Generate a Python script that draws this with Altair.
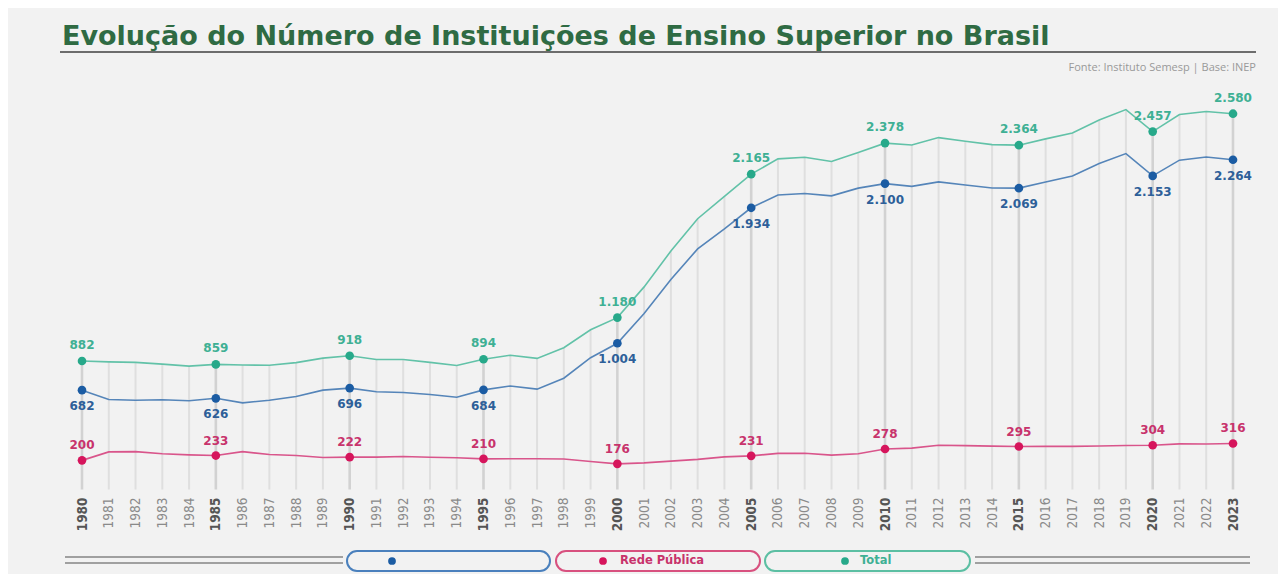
import altair as alt
import pandas as pd

# ---------------- data ----------------
anos = list(range(1980, 2024))
total = [882, 876, 873, 861, 847, 859, 855, 853, 871, 902, 918, 893, 893, 873, 851,
         894, 922, 900, 973, 1097, 1180, 1391, 1637, 1859, 2013, 2165, 2270, 2281,
         2252, 2314, 2378, 2365, 2416, 2391, 2368, 2364, 2407, 2448, 2537, 2608,
         2457, 2574, 2595, 2580]
publica = [200, 258, 260, 245, 238, 233, 260, 240, 233, 220, 222, 222, 227, 221, 218,
           210, 211, 211, 209, 192, 176, 183, 195, 207, 224, 231, 248, 249, 236, 245,
           278, 284, 304, 301, 298, 295, 296, 296, 299, 302, 304, 313, 312, 316]
privada = [682, 618, 613, 616, 609, 626, 595, 613, 638, 682, 696, 671, 666, 652, 633,
           684, 711, 689, 764, 905, 1004, 1208, 1442, 1652, 1789, 1934, 2022, 2032,
           2016, 2069, 2100, 2081, 2112, 2090, 2070, 2069, 2111, 2152, 2238, 2306,
           2153, 2261, 2283, 2264]
destaque = [1980, 1985, 1990, 1995, 2000, 2005, 2010, 2015, 2020, 2023]

titulo = "Evolução do Número de Instituições de Ensino Superior no Brasil"
fonte = "Fonte: Instituto Semesp | Base: INEP"
serie_privada = ""
serie_publica = "Rede Pública"
serie_total = "Total"


def fmt(v):
    return f"{v:,}".replace(",", ".")


df = pd.DataFrame({
    "ano": anos,
    "total": total,
    "publica": publica,
    "privada": privada,
})
df["destaque"] = df["ano"].isin(destaque)
df["lbl_total"] = df["total"].map(fmt)
df["lbl_publica"] = df["publica"].map(fmt)
df["lbl_privada"] = df["privada"].map(fmt)

one = pd.DataFrame({"a": [0]})

# ---------------- styles ----------------
C_TOTAL_LINE = "#62c2a8"
C_TOTAL_DOT = "#27a98a"
C_TOTAL_LBL = "#3eb094"
C_PRIV_LINE = "#5585b9"
C_PRIV_DOT = "#1b5ca3"
C_PRIV_LBL = "#2d5f99"
C_PUB_LINE = "#d9558b"
C_PUB_DOT = "#d6155c"
C_PUB_LBL = "#c8336c"

LABEL_FONT = "DejaVu Sans"
AXIS_FONT = "'Liberation Sans Narrow', 'DejaVu Sans Condensed', sans-serif"
BOLD_TEST = "datum.value % 5 === 0 || datum.value === 2023"

X = alt.X(
    "ano:Q",
    scale=alt.Scale(domain=[1980, 2023], range=[74, 1225], nice=False, zero=False),
    axis=alt.Axis(
        values=anos, format="d", labelAngle=270, labelOverlap=False,
        labelFlush=False, labelBound=False, ticks=False, domain=False,
        grid=False, title=None, labelPadding=5, labelFont=AXIS_FONT,
        labelFontSize=13.5,
        labelColor={"condition": {"test": BOLD_TEST, "value": "#555555"}, "value": "#8a8a8a"},
        labelFontWeight={"condition": {"test": BOLD_TEST, "value": "bold"}, "value": "normal"},
    ),
)

YS = alt.Scale(domain=[0, 2580], range=[481.5, 105.7], nice=False, zero=False)


def Y(f):
    return alt.Y(f"{f}:Q", scale=YS, axis=None)


base = alt.Chart(df)
pts = base.transform_filter("datum.destaque")

drops = base.mark_rule().encode(
    x=X, y=Y("total"), y2=alt.datum(0),
    color=alt.condition("datum.destaque", alt.value("#d2d2d2"), alt.value("#dfdfdf")),
    strokeWidth=alt.condition("datum.destaque", alt.value(2.6), alt.value(2)),
)

line_total = base.mark_line(color=C_TOTAL_LINE, strokeWidth=1.6).encode(x=X, y=Y("total"))
line_priv = base.mark_line(color=C_PRIV_LINE, strokeWidth=1.6).encode(x=X, y=Y("privada"))
line_pub = base.mark_line(color=C_PUB_LINE, strokeWidth=1.6).encode(x=X, y=Y("publica"))

dot_total = pts.mark_point(filled=True, size=75, opacity=1, color=C_TOTAL_DOT).encode(x=X, y=Y("total"))
dot_priv = pts.mark_point(filled=True, size=75, opacity=1, color=C_PRIV_DOT).encode(x=X, y=Y("privada"))
dot_pub = pts.mark_point(filled=True, size=75, opacity=1, color=C_PUB_DOT).encode(x=X, y=Y("publica"))

lbl_total = pts.mark_text(dy=-16, font=LABEL_FONT, fontSize=12, fontWeight="bold",
                          color=C_TOTAL_LBL).encode(x=X, y=Y("total"), text="lbl_total:N")
lbl_priv = pts.mark_text(dy=16, font=LABEL_FONT, fontSize=12, fontWeight="bold",
                         color=C_PRIV_LBL).encode(x=X, y=Y("privada"), text="lbl_privada:N")
lbl_pub = pts.mark_text(dy=-15, font=LABEL_FONT, fontSize=12, fontWeight="bold",
                        color=C_PUB_LBL).encode(x=X, y=Y("publica"), text="lbl_publica:N")

# ---------------- decorations ----------------
deco = alt.Chart(one)
title_mark = deco.mark_text(align="left", baseline="middle", font="DejaVu Sans", fontSize=27,
                            fontWeight="bold", color="#2f6b43", text=titulo).encode(
    x=alt.value(54), y=alt.value(29))
title_rule = deco.mark_rule(color="#6d6d6d", strokeWidth=2).encode(
    x=alt.value(52), x2=alt.value(1248), y=alt.value(44))
source_mark = deco.mark_text(align="right", baseline="middle", font="Open Sans", fontSize=11,
                             color="#999999", text=fonte).encode(
    x=alt.value(1248), y=alt.value(60))

leg_lines = [
    deco.mark_rule(color="#a0a0a0", strokeWidth=2).encode(
        x=alt.value(x0), x2=alt.value(x1), y=alt.value(yy))
    for (x0, x1) in [(57, 335), (967, 1242)] for yy in (549, 555)
]

pills = []
for (x0, x1, col) in [(339, 542, "#4a80bd"), (548, 752, "#d8517f"), (757, 962, "#5cbfa3")]:
    pills.append(deco.mark_rect(cornerRadius=10, fillOpacity=0, stroke=col, strokeWidth=2).encode(
        x=alt.value(x0), x2=alt.value(x1), y=alt.value(543), y2=alt.value(563)))

leg_dots = [
    deco.mark_point(filled=True, size=60, opacity=1, color=c).encode(x=alt.value(xx), y=alt.value(553))
    for (xx, c) in [(384, C_PRIV_DOT), (595, C_PUB_DOT), (837, C_TOTAL_DOT)]
]
leg_texts = [
    deco.mark_text(align="left", baseline="middle", font="DejaVu Sans", fontSize=11.5,
                   fontWeight="bold", color=c, text=t).encode(x=alt.value(xx), y=alt.value(553))
    for (xx, c, t) in [(400, C_PRIV_LBL, serie_privada), (612, C_PUB_LBL, serie_publica),
                       (852, C_TOTAL_LBL, serie_total)]
]

chart = alt.layer(
    drops, line_total, line_priv, line_pub,
    dot_total, dot_priv, dot_pub,
    lbl_total, lbl_priv, lbl_pub,
    title_mark, title_rule, source_mark,
    *leg_lines, *pills, *leg_dots, *leg_texts,
).properties(
    width=1270, height=484,
    autosize=alt.AutoSizeParams(type="none"),
    padding={"left": 0, "top": 0, "right": 0, "bottom": 82},
).configure(
    background="#f2f2f2",
).configure_view(
    stroke=None,
)

chart.save("out.html", embed_options={"renderer": "svg", "actions": False})
